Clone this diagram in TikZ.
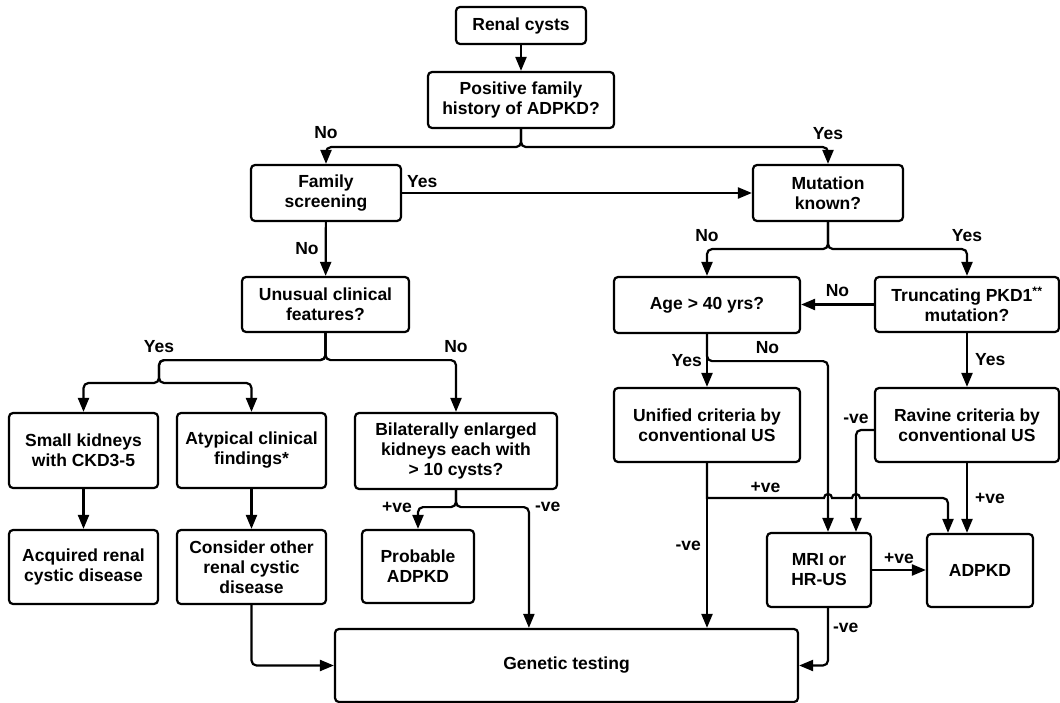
\documentclass[tikz,border=0pt]{standalone}
\usepackage{fontspec}
\setmainfont{Liberation Sans}
\usetikzlibrary{arrows.meta,calc}

\begin{document}
\begin{tikzpicture}[x=1pt,y=-1pt,>={Triangle[length=14pt,width=11pt]},
  box/.style={draw,rounded corners=4pt,line width=2.2pt,align=center,inner sep=2pt,font=\fontsize{17.5}{20}\selectfont\bfseries},
  lbl/.style={font=\fontsize{17.5}{20}\selectfont\bfseries,inner sep=2pt},
  arr/.style={->,line width=2.2pt,rounded corners=5pt}]
\useasboundingbox (0,0) rectangle (1060,703);
\node[box,minimum width=130,minimum height=37] (cysts) at (521,25.5) {Renal cysts};
\node[box,minimum width=186,minimum height=56] (fam) at (521,100) {Positive family\\history of ADPKD?};
\node[box,minimum width=150,minimum height=56] (screen) at (326,193) {Family\\screening};
\node[box,minimum width=150,minimum height=56] (mut) at (828,193) {Mutation\\known?};
\node[box,minimum width=167,minimum height=55] (unusual) at (325.5,304.5) {Unusual clinical\\features?};
\node[box,minimum width=186,minimum height=56] (age) at (707,305) {Age > 40 yrs?};
\node[box,minimum width=184,minimum height=55] (trunc) at (967,304.5) {Truncating PKD1\textsuperscript{**}\\mutation?};
\node[box,minimum width=149,minimum height=75] (small) at (83.5,450.5) {Small kidneys\\with CKD3-5};
\node[box,minimum width=149,minimum height=75] (atyp) at (251.5,450.5) {Atypical clinical\\findings*};
\node[box,minimum width=202,minimum height=76] (bilat) at (456,451) {Bilaterally enlarged\\kidneys each with\\> 10 cysts?};
\node[box,minimum width=186,minimum height=74] (unified) at (707,425) {Unified criteria by\\conventional US};
\node[box,minimum width=184,minimum height=74] (ravine) at (967,425) {Ravine criteria by\\conventional US};
\node[box,minimum width=149,minimum height=74] (acq) at (83.5,567) {Acquired renal\\cystic disease};
\node[box,minimum width=149,minimum height=74] (other) at (251.5,567) {Consider other\\renal cystic\\disease};
\node[box,minimum width=112,minimum height=73] (prob) at (418,566.5) {Probable\\ADPKD};
\node[box,minimum width=104,minimum height=74] (mri) at (819,570) {MRI or\\HR-US};
\node[box,minimum width=106,minimum height=73] (adpkd) at (980,570.5) {ADPKD};
\node[box,minimum width=463,minimum height=73] (gen) at (566.5,665.5) {Genetic testing};
\coordinate (ysplit) at (159,383);
\draw[arr] (cysts) -- (fam);
\draw[arr] (fam.south) -- ++(0,18) -| node[lbl,pos=0.5,above=5pt]{No} (screen.north);
\draw[arr] (fam.south) -- ++(0,18) -| node[lbl,pos=0.5,above=4pt]{Yes} (mut.north);
\draw[arr] (screen.east) -- node[lbl,pos=0,anchor=south west,inner sep=4pt]{Yes} (mut.west);
\draw[arr] (screen) -- node[lbl,left=4pt]{No} (unusual);
\draw[arr] (unusual.south) -- ++(0,27) -| node[lbl,pos=0.5,above=4pt]{Yes} (ysplit) -| (small.north);
\draw[arr] (unusual.south) -- ++(0,27) -| (ysplit) -| (atyp.north);
\draw[arr] (unusual.south) -- ++(0,27) -| node[lbl,pos=0.5,above=4pt]{No} (bilat.north);
\draw[arr] (small) -- (acq);
\draw[arr] (atyp) -- (other);
\draw[arr] (other.south) |- (gen.west);
\draw[arr] (bilat.south) -- ++(0,17) -| node[lbl,pos=0.5,left=3pt]{+ve} (prob.north);
\draw[arr] (bilat.south) -- ++(0,17) -| node[lbl,pos=0.5,right=3pt]{-ve} ($(gen.north west)+(195,0)$);
\draw[arr] (mut.south) -- ++(0,27) -| node[lbl,pos=0.5,above=4pt]{No} (age.north);
\draw[arr] (mut.south) -- ++(0,27) -| node[lbl,pos=0.5,above=4pt]{Yes} (trunc.north);
\draw[arr] (trunc.west) -- node[lbl,above=5pt]{No} (age.east |- trunc.west);
\draw[arr] (age) -- node[lbl,left=2pt]{Yes} (unified);
\draw[arr] (age.south) -- ++(0,27) -| node[lbl,pos=0.25,above=4pt]{No} ($(mri.north)+(9,0)$);
\draw[arr] (trunc) -- node[lbl,right=5pt]{Yes} (ravine);
\draw[arr] ([yshift=-5pt]ravine.west) -| node[lbl,pos=0.5,above=3pt]{-ve} ($(mri.north)+(37,0)$);
\draw[arr] (ravine.south) -- node[lbl,right=5pt]{+ve} (ravine.south |- adpkd.north);
\draw[arr] (unified.south) -- node[lbl,left=3pt]{-ve} (unified.south |- gen.north);
\draw[->,line width=2.2pt] (unified.south) -- (707,498) -- node[lbl,above=2pt]{+ve} (824,498)
  arc[start angle=180,end angle=360,radius=4] -- (852,498)
  arc[start angle=180,end angle=360,radius=4] [rounded corners=5pt] -| ($(adpkd.north)+(-32,0)$);
\draw[arr] (mri.east) -- node[lbl,above=3pt]{+ve} (adpkd.west |- mri.east);
\draw[arr] ($(mri.south)+(9,0)$) |- node[lbl,pos=0.17,right=2pt]{-ve} (gen.east);
\end{tikzpicture}
\end{document}
